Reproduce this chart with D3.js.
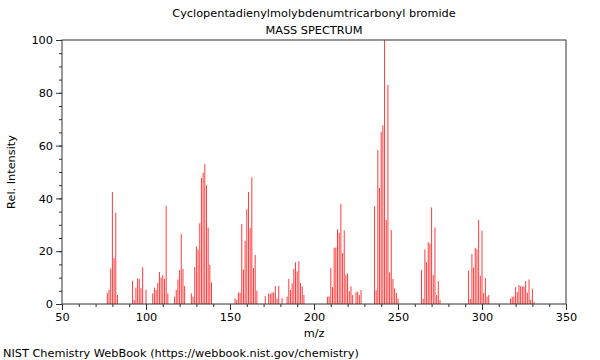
<!DOCTYPE html>
<html>
<head>
<meta charset="utf-8">
<script src="https://cdn.jsdelivr.net/npm/d3@7"></script>
<style>
  html, body { margin: 0; padding: 0; background: #fff; }
  svg text { font-family: "DejaVu Sans", sans-serif; fill: #000; }
</style>
</head>
<body>
<svg id="chart" width="600" height="360"></svg>
<script>
const titleLines = ["Cyclopentadienylmolybdenumtricarbonyl bromide", "MASS SPECTRUM"];
const xLabel = "m/z";
const yLabel = "Rel. Intensity";
const footer = "NIST Chemistry WebBook (https://webbook.nist.gov/chemistry)";

const mz = [
  77,78,79,80,81,82,83,
  92,93,94,95,96,97,98,100,
  104,105,106,107,108,109,110,111,112,113,
  117,118,119,120,121,122,123,
  127,128,129,130,131,132,133,134,135,136,137,138,139,
  153,154,155,156,157,158,159,160,161,162,163,164,165,166,
  171,173,174,175,176,177,178,179,181,
  184,185,186,187,188,189,190,191,192,193,194,
  208,209,210,211,212,213,214,215,216,217,218,219,220,221,222,223,225,226,227,228,
  236,237,238,239,240,241,242,243,244,245,246,247,248,249,250,
  264,265,266,267,268,269,270,271,272,273,274,275,
  292,293,294,295,296,297,298,299,300,301,302,303,304,
  317,318,319,320,321,322,323,324,325,326,327,328,329,330,331
];
const intensity = [
  4.2,5.4,13.4,42.4,17.4,34.6,3.4,
  8.8,1.5,6.2,9.7,9.5,6.0,13.9,5.4,
  4.0,6.2,5.3,8.0,12.1,10.0,11.0,9.5,37.2,4.0,
  2.8,5.3,9.3,12.9,26.5,13.3,6.8,
  4.0,2.8,14.0,21.8,20.6,30.6,47.7,49.7,53.0,45.0,29.0,14.9,8.2,
  2.1,1.5,4.3,4.3,30.3,13.0,23.9,35.9,42.4,28.8,48.0,13.6,18.6,5.0,
  3.0,4.0,3.8,4.4,4.4,6.8,2.1,6.8,2.3,
  2.8,9.5,5.3,7.8,13.3,15.8,12.4,16.2,8.0,6.6,3.4,
  2.7,2.9,13.6,6.4,21.3,21.4,28.3,27.0,37.9,19.3,27.9,11.0,11.6,4.9,6.7,3.4,4.4,4.7,3.4,5.3,
  37.1,5.2,58.3,44.0,65.2,67.7,100,31.9,83.0,12.0,28.0,9.5,5.9,4.2,2.1,
  12.9,2.0,20.7,15.8,23.4,22.9,36.6,11.0,29.0,3.4,8.7,1.5,
  12.7,1.9,18.9,13.8,21.3,20.7,31.8,10.7,27.7,4.2,9.8,2.8,3.4,
  2.1,2.8,2.8,6.4,4.5,7.2,6.7,6.7,6.6,8.7,4.3,9.3,1.6,5.8,0.8
];
const xTicks = [50,100,150,200,250,300,350];
const yTicks = [0,20,40,60,80,100];

const svg = d3.select("#chart");
const m = {left: 62, right: 34, top: 40, bottom: 56};
const W = 600, H = 360;
const FS = 11.3;
const x = d3.scaleLinear().domain([50, 350]).range([m.left, W - m.right]);
const y = d3.scaleLinear().domain([0, 100]).range([H - m.bottom, m.top]);

// bars
svg.append("g").selectAll("line").data(mz).join("line")
  .attr("x1", d => x(d)).attr("x2", d => x(d))
  .attr("y1", y(0)).attr("y2", (d, i) => y(intensity[i]))
  .attr("stroke", "#ff3c3c").attr("stroke-width", 1);

// axes
const frameColor = "#333";
const xMinor = d3.axisBottom(x).tickValues(d3.range(50, 351, 10)).tickSize(3).tickFormat("");
const xMajor = d3.axisBottom(x).tickValues(xTicks).tickSize(6).tickPadding(3).tickFormat(d3.format("d"));
const yMinor = d3.axisLeft(y).tickValues(d3.range(0, 101, 5)).tickSize(3).tickFormat("");
const yMajor = d3.axisLeft(y).tickValues(yTicks).tickSize(6).tickPadding(3).tickFormat(d3.format("d"));

function style(g) {
  g.select(".domain").remove();
  g.selectAll("line").attr("stroke", frameColor);
  g.selectAll("text").attr("font-size", FS).attr("font-family", "DejaVu Sans").attr("fill", "#000");
}
svg.append("g").attr("transform", `translate(0,${y(0)})`).call(xMinor).call(style);
svg.append("g").attr("transform", `translate(0,${y(0)})`).call(xMajor).call(style);
svg.append("g").attr("transform", `translate(${x(50)},0)`).call(yMinor).call(style);
svg.append("g").attr("transform", `translate(${x(50)},0)`).call(yMajor).call(style);

// frame
svg.append("rect")
  .attr("x", x(50)).attr("y", y(100))
  .attr("width", x(350) - x(50)).attr("height", y(0) - y(100))
  .attr("fill", "none").attr("stroke", frameColor).attr("stroke-width", 1);

// titles
const cx = (x(50) + x(350)) / 2;
svg.append("text").attr("x", cx).attr("y", 17).attr("text-anchor", "middle")
  .attr("font-size", FS).text(titleLines[0]);
svg.append("text").attr("x", cx).attr("y", 34).attr("text-anchor", "middle")
  .attr("font-size", FS).text(titleLines[1]);
svg.append("text").attr("x", cx).attr("y", 337).attr("text-anchor", "middle")
  .attr("font-size", FS).text(xLabel);
svg.append("text").attr("transform", `translate(15,${(y(0) + y(100)) / 2}) rotate(-90)`)
  .attr("text-anchor", "middle").attr("font-size", FS).text(yLabel);
svg.append("text").attr("x", 3).attr("y", 357).attr("font-size", FS).text(footer);
</script>
</body>
</html>
